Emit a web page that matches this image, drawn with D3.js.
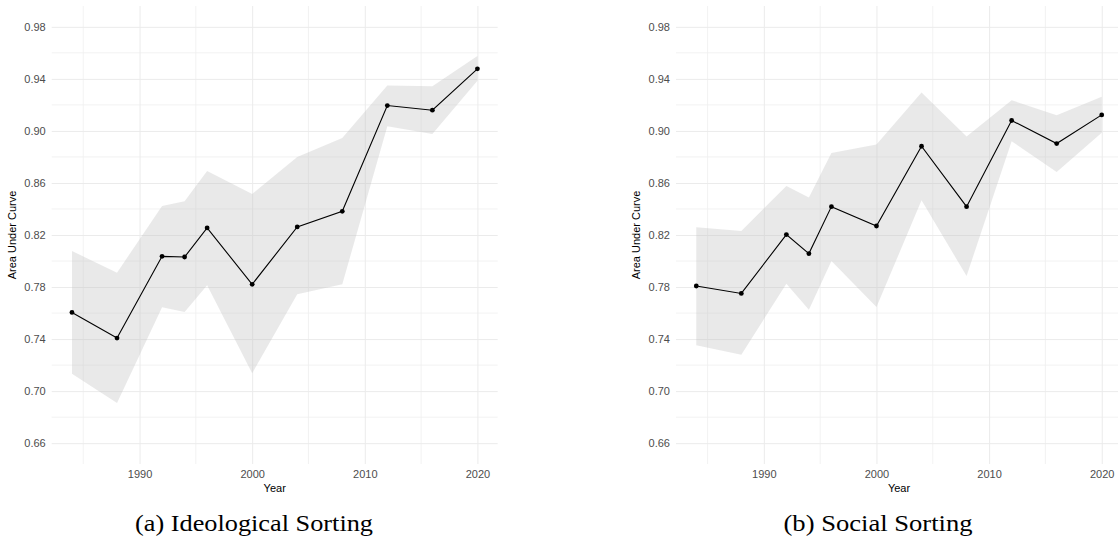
<!DOCTYPE html>
<html>
<head>
<meta charset="utf-8">
<script src="https://cdn.jsdelivr.net/npm/d3@7"></script>
<style>
  body { margin: 0; background: #fff; }
  svg { display: block; }
  .sans { font-family: "Liberation Sans", Arial, Helvetica, sans-serif; }
  .serif { font-family: "Liberation Serif", "Times New Roman", Times, serif; }
</style>
</head>
<body>
<svg id="chart" width="1118" height="542"></svg>
<script>
// survey years
var years = [1984, 1988, 1992, 1994, 1996, 2000, 2004, 2008, 2012, 2016, 2020];

// (a) ideological sorting
var ideoAuc   = [0.7605, 0.7408, 0.8036, 0.8031, 0.8254, 0.7821, 0.8262, 0.8382, 0.9195, 0.9159, 0.9477];
var ideoLower = [0.7134, 0.6908, 0.7644, 0.7608, 0.7813, 0.7138, 0.7744, 0.7821, 0.9036, 0.8977, 0.9385];
var ideoUpper = [0.8077, 0.7910, 0.8423, 0.8459, 0.8692, 0.8515, 0.8800, 0.8946, 0.9349, 0.9344, 0.9575];

// (b) social sorting
var socAuc   = [0.7808, 0.7751, 0.8203, 0.8057, 0.8418, 0.8269, 0.8882, 0.8418, 0.9080, 0.8903, 0.9123];
var socLower = [0.7352, 0.7280, 0.7826, 0.7626, 0.8000, 0.7646, 0.8467, 0.7885, 0.8921, 0.8685, 0.8985];
var socUpper = [0.8259, 0.8231, 0.8577, 0.8488, 0.8831, 0.8895, 0.9295, 0.8957, 0.9236, 0.9121, 0.9262];

var yTicks = [0.66, 0.70, 0.74, 0.78, 0.82, 0.86, 0.90, 0.94, 0.98];
var yMinor = [0.68, 0.72, 0.76, 0.80, 0.84, 0.88, 0.92, 0.96];
var xTicks = [1990, 2000, 2010, 2020];
var xMinor = [1985, 1995, 2005, 2015];

var svg = d3.select("#chart");
var fmt = d3.format(".2f");

function drawPanel(left, auc, lower, upper, caption, captionX, captionLen, ylabX) {
    var x = d3.scaleLinear().domain([1982.2, 2021.8]).range([left, left + 446]);
    var y = d3.scaleLinear().domain([0.644, 0.996]).range([464, 6]);
    var g = svg.append("g");

    // minor grid
    g.selectAll(".hminor").data(yMinor).enter().append("line")
        .attr("x1", x.range()[0]).attr("x2", x.range()[1])
        .attr("y1", function (d) { return y(d); }).attr("y2", function (d) { return y(d); })
        .attr("stroke", "#efefef").attr("stroke-width", 0.8);
    g.selectAll(".vminor").data(xMinor).enter().append("line")
        .attr("y1", y.range()[0]).attr("y2", y.range()[1])
        .attr("x1", function (d) { return x(d); }).attr("x2", function (d) { return x(d); })
        .attr("stroke", "#efefef").attr("stroke-width", 0.8);

    // major grid + labels via axes
    var ya = g.append("g")
        .attr("transform", "translate(" + x.range()[0] + ",0)")
        .call(d3.axisLeft(y).tickValues(yTicks).tickFormat(fmt)
            .tickSize(-(x.range()[1] - x.range()[0])).tickPadding(6));
    ya.select(".domain").remove();
    ya.selectAll("line").attr("stroke", "#ebebeb").attr("stroke-width", 1);
    ya.attr("font-family", null).attr("font-size", null);
    ya.selectAll("text").attr("fill", "#4d4d4d").attr("class", "sans").style("font-size", "11px");

    var xa = g.append("g")
        .attr("transform", "translate(0," + y.range()[0] + ")")
        .call(d3.axisBottom(x).tickValues(xTicks).tickFormat(d3.format("d"))
            .tickSize(-(y.range()[0] - y.range()[1])).tickPadding(6));
    xa.select(".domain").remove();
    xa.selectAll("line").attr("stroke", "#ebebeb").attr("stroke-width", 1);
    xa.attr("font-family", null).attr("font-size", null);
    xa.selectAll("text").attr("fill", "#4d4d4d").attr("class", "sans").style("font-size", "11px");

    var rows = years.map(function (yr, i) {
        return { year: yr, auc: auc[i], lo: lower[i], hi: upper[i] };
    });

    // confidence ribbon
    var area = d3.area()
        .x(function (d) { return x(d.year); })
        .y0(function (d) { return y(d.lo); })
        .y1(function (d) { return y(d.hi); });
    g.append("path").datum(rows)
        .attr("d", area)
        .attr("fill", "#bebebe").attr("fill-opacity", 0.34);

    var line = d3.line()
        .x(function (d) { return x(d.year); })
        .y(function (d) { return y(d.auc); });
    g.append("path").datum(rows)
        .attr("d", line)
        .attr("fill", "none").attr("stroke", "#000").attr("stroke-width", 1.1);

    g.selectAll(".pt").data(rows).enter().append("circle")
        .attr("cx", function (d) { return x(d.year); })
        .attr("cy", function (d) { return y(d.auc); })
        .attr("r", 2.4).attr("fill", "#000");

    // axis titles
    g.append("text")
        .attr("class", "sans")
        .attr("x", (x.range()[0] + x.range()[1]) / 2).attr("y", 492)
        .attr("text-anchor", "middle")
        .style("font-size", "11px")
        .text("Year");
    g.append("text")
        .attr("class", "sans")
        .attr("transform", "translate(" + ylabX + "," + ((y.range()[0] + y.range()[1]) / 2) + ") rotate(-90)")
        .attr("text-anchor", "middle")
        .style("font-size", "11px")
        .text("Area Under Curve");

    // sub-figure caption
    g.append("text")
        .attr("class", "serif")
        .attr("x", captionX).attr("y", 531)
        .attr("text-anchor", "middle")
        .attr("textLength", captionLen).attr("lengthAdjust", "spacingAndGlyphs")
        .style("font-size", "23px")
        .text(caption);
}

drawPanel(51.7, ideoAuc, ideoLower, ideoUpper, "(a) Ideological Sorting", 254, 238, 16);
drawPanel(676, socAuc, socLower, socUpper, "(b) Social Sorting", 878, 189, 640);
</script>
</body>
</html>
